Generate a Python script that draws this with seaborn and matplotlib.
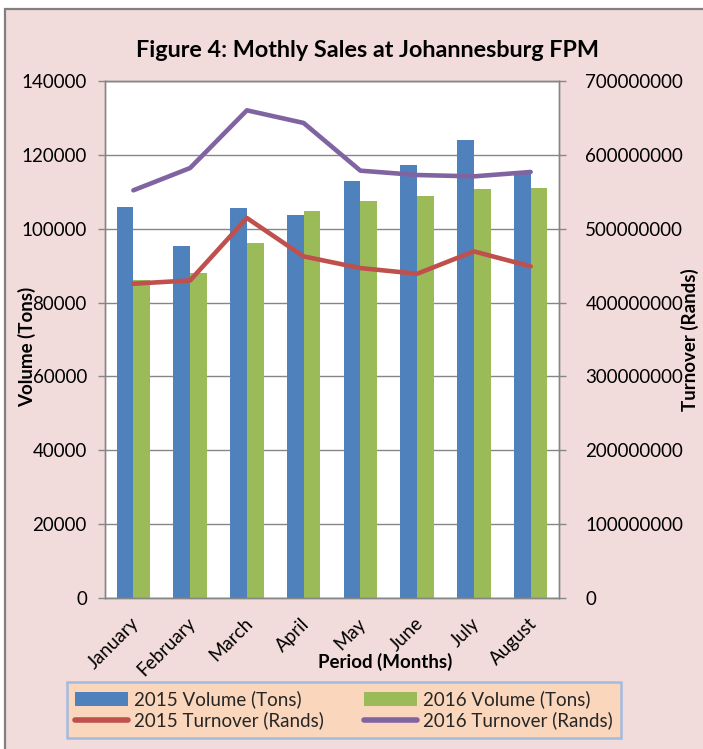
import numpy as np
import pandas as pd
import matplotlib
matplotlib.use("Agg")
import matplotlib.pyplot as plt
import matplotlib.transforms as mtrans
import seaborn as sns
from matplotlib.patches import Rectangle

# ---------------- data ----------------
months = ["January", "February", "March", "April", "May", "June", "July", "August"]
volume_2015 = [105800, 95200, 105600, 103600, 113000, 117200, 123900, 115100]
volume_2016 = [86000, 88000, 96100, 104900, 107500, 108900, 110800, 111100]
turnover_2015 = [425.5e6, 430e6, 514.5e6, 462.5e6, 446.7e6, 439e6, 469.3e6, 449e6]
turnover_2016 = [552e6, 582.2e6, 660.3e6, 643.2e6, 578.6e6, 572.7e6, 570.9e6, 576.8e6]
vol_labels = ["2015 Volume (Tons)", "2016 Volume (Tons)"]
turn_labels = ["2015 Turnover (Rands)", "2016 Turnover (Rands)"]
left_ticks = [0, 20000, 40000, 60000, 80000, 100000, 120000, 140000]
right_ticks = [0, 100000000, 200000000, 300000000, 400000000, 500000000, 600000000, 700000000]

vol_df = pd.DataFrame({
    "Month": months * 2,
    "Series": [vol_labels[0]] * len(months) + [vol_labels[1]] * len(months),
    "Volume": volume_2015 + volume_2016,
})
turn_df = pd.DataFrame({
    "Month": months * 2,
    "Series": [turn_labels[0]] * len(months) + [turn_labels[1]] * len(months),
    "Turnover": turnover_2015 + turnover_2016,
})

# ---------------- style ----------------
sns.set_theme(style="white")
plt.rcParams["font.family"] = ["Lato", "DejaVu Sans"]

BLUE, GREEN, RED, PURPLE = "#4F81BD", "#9BBB59", "#C0504D", "#8064A2"
PINK = "#F2DCDB"
GRID = "#868686"
FS = 13.5

fig = plt.figure(figsize=(7.03, 7.49), dpi=100)
fig.patch.set_facecolor("white")
W, H = 703, 749
bg = Rectangle((5 / W, -0.02), 1.05, (H - 9) / H + 0.02, transform=fig.transFigure,
               facecolor=PINK, edgecolor="#808080", linewidth=1.6, zorder=-10)
fig.patches.append(bg)

ax = fig.add_axes([105 / W, 1 - 598 / H, 454 / W, 517 / H])
ax.set_facecolor("white")

sns.barplot(data=vol_df, x="Month", y="Volume", hue="Series", palette=[BLUE, GREEN],
            width=0.59, gap=0, ax=ax, saturation=1, edgecolor="none", linewidth=0)

ax2 = ax.twinx()
sns.lineplot(data=turn_df, x="Month", y="Turnover", hue="Series", palette=[RED, PURPLE],
             linewidth=3.3, sort=False, ax=ax2, solid_capstyle="round", solid_joinstyle="round")

# axes limits & ticks
ax.set_ylim(0, 140000)
ax.set_yticks(left_ticks)
ax.set_yticklabels([str(t) for t in left_ticks])
ax2.set_ylim(0, 700000000)
ax2.set_yticks(right_ticks)
ax2.set_yticklabels([str(t) for t in right_ticks])
ax.set_xlim(-0.5, len(months) - 0.5)

ax.set_axisbelow(True)
ax.yaxis.grid(True, color=GRID, linewidth=1.0)
ax.xaxis.grid(False)
for a in (ax, ax2):
    for s in a.spines.values():
        s.set_color(GRID)
        s.set_linewidth(1.0)
        s.set_visible(True)

ax.tick_params(axis="y", which="major", left=True, length=5, width=1.0, color=GRID,
               labelsize=FS, pad=8, labelcolor="black")
ax2.tick_params(axis="y", which="major", right=True, length=5, width=1.0, color=GRID,
                labelsize=FS, pad=14, labelcolor="black")
ax.tick_params(axis="x", bottom=False, labelsize=FS, pad=4, labelcolor="black")
offset = mtrans.ScaledTranslation(3 / 100, -9 / 100, fig.dpi_scale_trans)
for lab in ax.get_xticklabels():
    lab.set_rotation(45)
    lab.set_ha("right")
    lab.set_va("center")
    lab.set_rotation_mode("anchor")
    lab.set_transform(lab.get_transform() + offset)

# axis labels
ax.set_ylabel("Volume (Tons)", fontsize=FS, fontweight="bold", color="black")
ax.yaxis.set_label_coords((36 - 105) / 454, (598 - 347) / 517)
ax2.set_ylabel("Turnover (Rands)", fontsize=FS, fontweight="bold", color="black")
ax2.yaxis.set_label_coords((681 - 105) / 454, (598 - 340) / 517)
ax.set_xlabel("Period (Months)", fontsize=FS, fontweight="bold", color="black")
ax.xaxis.set_label_coords((385 - 105) / 454, (598 - 653) / 517)

# title
fig.text(368 / W, 1 - 57 / H, "Figure 4: Mothly Sales at Johannesburg FPM",
         ha="center", va="baseline", fontsize=16.8, fontweight="bold", color="black")

# legend
h1, l1 = ax.get_legend_handles_labels()
h2, l2 = ax2.get_legend_handles_labels()
if ax.get_legend():
    ax.get_legend().remove()
if ax2.get_legend():
    ax2.get_legend().remove()
hd = dict(zip(l1 + l2, h1 + h2))
order = [vol_labels[0], turn_labels[0], vol_labels[1], turn_labels[1]]
leg = fig.legend([hd[k] for k in order], order, ncol=2,
                 bbox_to_anchor=(67 / W, 1 - 739 / H, 554 / W, 58 / H),
                 loc="center", mode="expand", fontsize=FS, frameon=True,
                 fancybox=False, handlelength=2.8, handleheight=0.7,
                 handletextpad=0.32, borderpad=0.45, labelspacing=0.15,
                 columnspacing=1.0, borderaxespad=0)
leg.get_frame().set_facecolor("#FCD5B5")
leg.get_frame().set_edgecolor("#8EB4E3")
leg.get_frame().set_linewidth(1.8)
for line in leg.get_lines():
    line.set_linewidth(4.0)
    line.set_solid_capstyle("round")

fig.savefig("out.png", dpi=100, facecolor=fig.get_facecolor())
